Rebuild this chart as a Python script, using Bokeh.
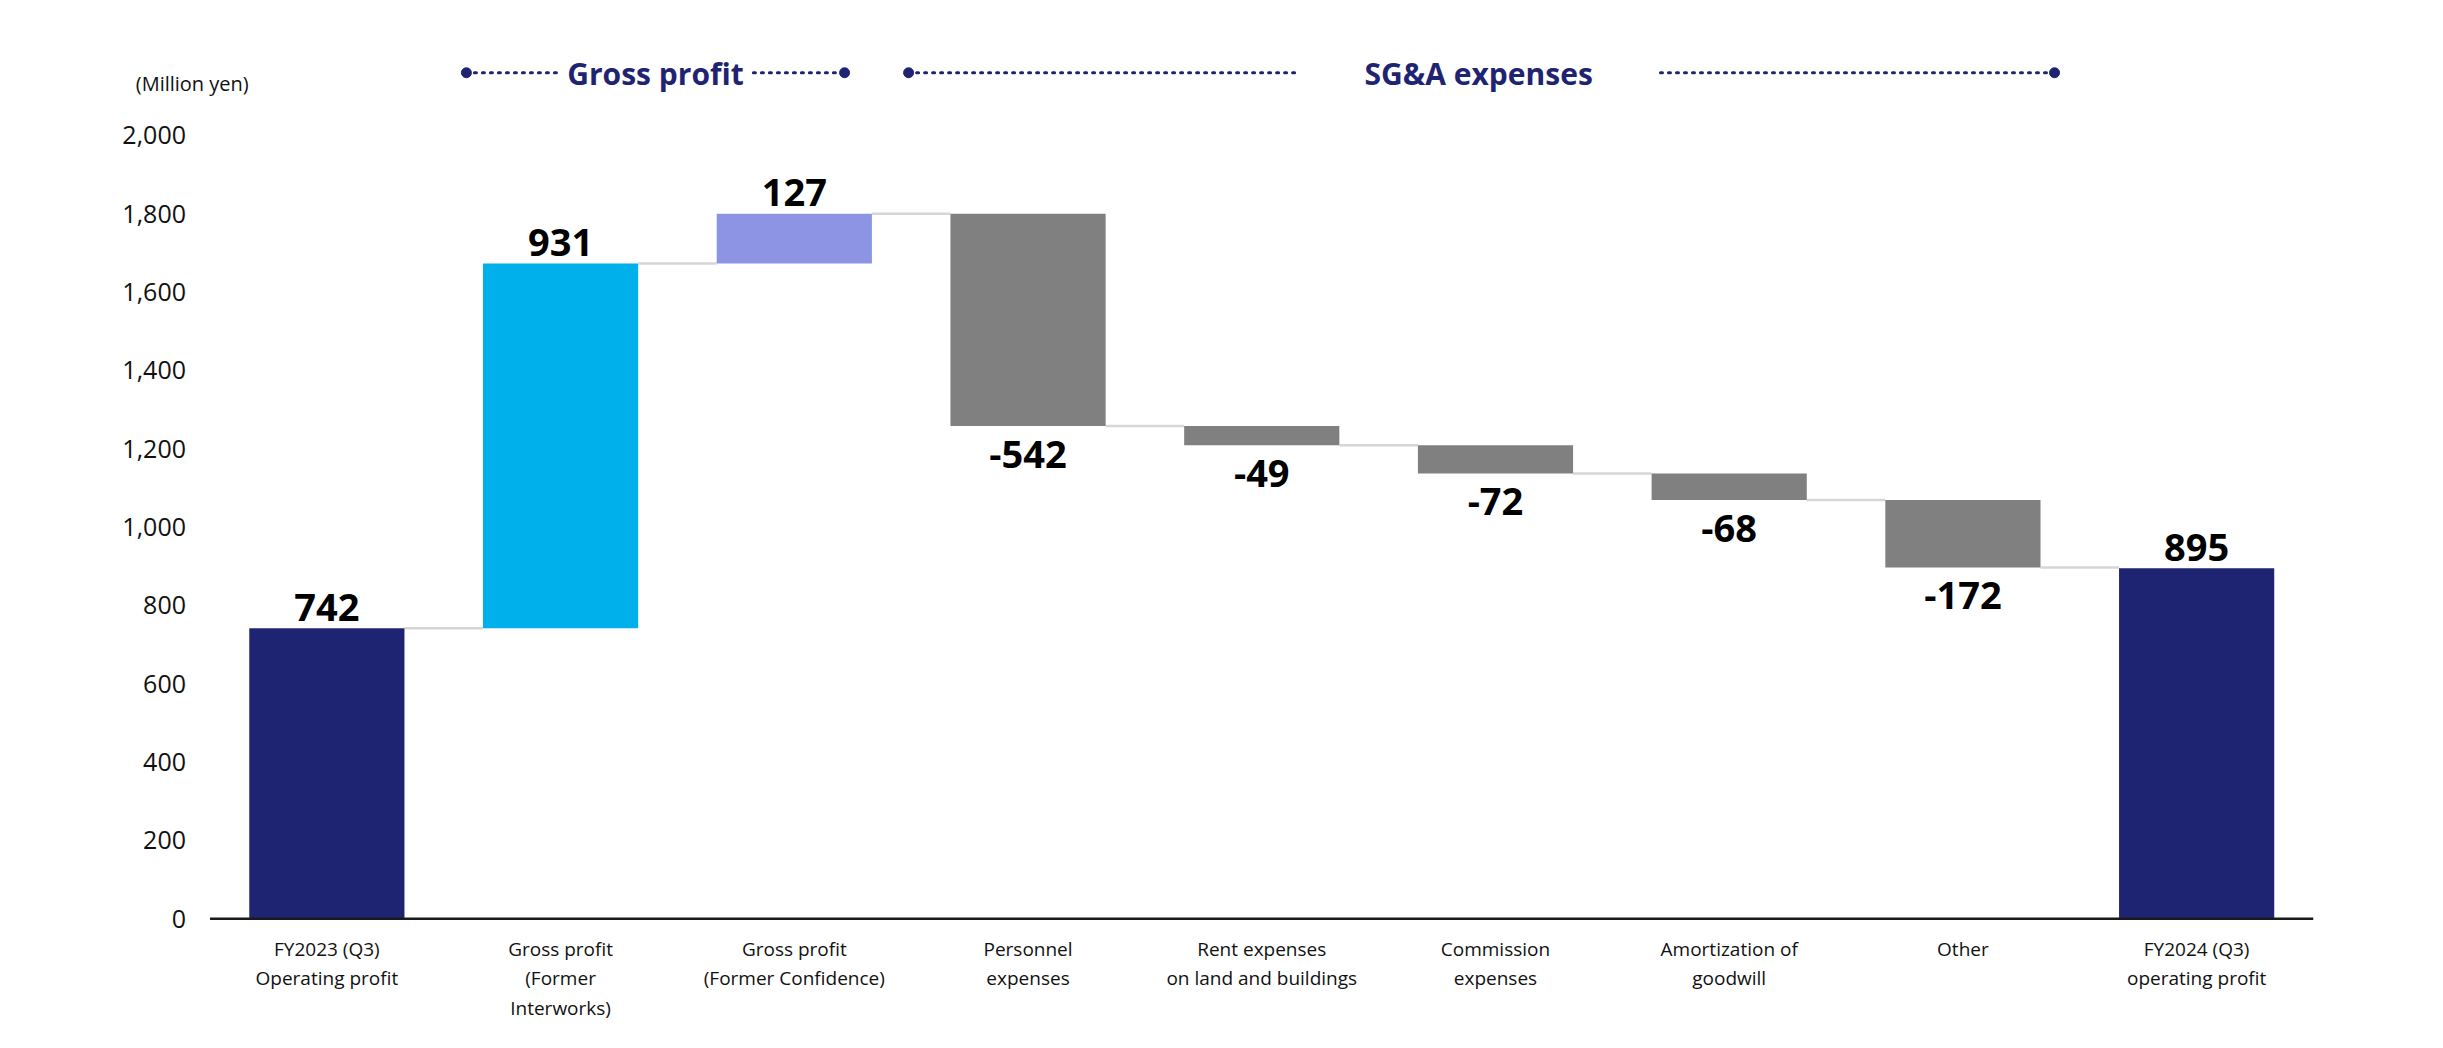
from bokeh.plotting import figure
from bokeh.models import FixedTicker, NumeralTickFormatter, Label, ColumnDataSource
from bokeh.core.properties import value
from bokeh.embed import file_html
from bokeh.resources import INLINE

# ---------------- data ----------------
categories = [
    "FY2023 (Q3)\nOperating profit",
    "Gross profit\n(Former\nInterworks)",
    "Gross profit\n(Former Confidence)",
    "Personnel\nexpenses",
    "Rent expenses\non land and buildings",
    "Commission\nexpenses",
    "Amortization of\ngoodwill",
    "Other",
    "FY2024 (Q3)\noperating profit",
]
values = [742, 931, 127, -542, -49, -72, -68, -172, 895]
kinds = ["total", "gp", "gp2", "sga", "sga", "sga", "sga", "sga", "total"]
y_ticks = [0, 200, 400, 600, 800, 1000, 1200, 1400, 1600, 1800, 2000]
unit_label = "(Million yen)"
group_titles = ["Gross profit", "SG&A expenses"]

# ---------------- styles ----------------
NAVY = "#1F2472"
kind_colors = {"total": NAVY, "gp": "#00B0EB", "gp2": "#8C94E3", "sga": "#808080"}
FONT = "Open Sans"
BAR_W = 0.664

# ---------------- waterfall geometry ----------------
xs = list(range(len(values)))
bottoms, tops, ends = [], [], []
running = 0
for v, k in zip(values, kinds):
    if k == "total":
        b, t = 0, v
        running = v
    else:
        b, t = running, running + v
        running += v
    bottoms.append(min(b, t))
    tops.append(max(b, t))
    ends.append(running)

bars = ColumnDataSource(dict(
    x=xs, bottom=bottoms, top=tops,
    color=[kind_colors[k] for k in kinds],
))

p = figure(width=2440, height=1045, x_range=(-1.2766, 8.5), y_range=(-35, 2250),
           output_backend="svg", toolbar_location=None,
           min_border_left=28, min_border_right=127,
           min_border_top=37, min_border_bottom=113)
p.outline_line_color = None
p.xgrid.grid_line_color = None
p.ygrid.grid_line_color = None
p.background_fill_color = "white"
p.border_fill_color = "white"

# connectors
cx0 = [x + BAR_W / 2 for x in xs[:-1]]
cx1 = [x + 1 - BAR_W / 2 for x in xs[:-1]]
cy = ends[:-1]
p.segment(x0=cx0, y0=cy, x1=cx1, y1=cy, line_color="#D6D6D6", line_width=2.5)

p.vbar(x="x", bottom="bottom", top="top", width=BAR_W, color="color",
       line_color=None, source=bars)

# baseline (category axis line at zero)
p.segment(x0=[xs[0] - 0.5], y0=[0], x1=[xs[-1] + 0.5], y1=[0],
          line_color="#1a1a1a", line_width=2.5)

# value labels
pos_x = [x for x, v in zip(xs, values) if v >= 0]
pos_y = [t for t, v in zip(tops, values) if v >= 0]
pos_t = [f"{v:,}" for v in values if v >= 0]
neg_x = [x for x, v in zip(xs, values) if v < 0]
neg_y = [b for b, v in zip(bottoms, values) if v < 0]
neg_t = [f"-{abs(v):,}" for v in values if v < 0]
p.text(x=pos_x, y=pos_y, text=pos_t, text_align="center", text_baseline="alphabetic",
       y_offset=-21, text_font=value(FONT), text_font_style="bold",
       text_font_size="38px", text_color="black")
p.text(x=neg_x, y=neg_y, text=neg_t, text_align="center", text_baseline="alphabetic",
       y_offset=28, text_font=value(FONT), text_font_style="bold",
       text_font_size="38px", text_color="black")

# group headers (layout positions in category units)
HDR_Y = 2160
HDR_BASE = 2158
hdr_layout = [
    # dot_left, line1_end, text_center, line2_start, dot_right
    (0.597, 0.991, 1.406, 1.825, 2.215),
    (2.489, 4.149, 4.928, 5.706, 7.392),
]
for title, (d0, l1, tc, l2, d1) in zip(group_titles, hdr_layout):
    p.segment(x0=[d0, l2], y0=[HDR_Y, HDR_Y], x1=[l1, d1], y1=[HDR_Y, HDR_Y],
              line_color=NAVY, line_width=3, line_dash="2 6", line_cap="round")
    p.scatter(x=[d0, d1], y=[HDR_Y, HDR_Y], size=10, color=NAVY, marker="circle")
    p.text(x=[tc], y=[HDR_BASE], text=[title], text_align="center",
           text_baseline="alphabetic", text_font=value(FONT), text_font_style="bold",
           text_font_size="30px", text_color=NAVY)

p.add_layout(Label(x=-0.576, y=2132, text=unit_label, text_align="center",
                   text_baseline="alphabetic", text_font=FONT, text_font_size="20px",
                   text_color="#111111"))

# axes
p.xaxis.ticker = FixedTicker(ticks=xs)
p.xaxis.major_label_overrides = {i: c for i, c in enumerate(categories)}
p.xaxis.major_tick_line_color = None
p.xaxis.minor_tick_line_color = None
p.xaxis.axis_line_color = None
p.xaxis.major_label_text_font = FONT
p.xaxis.major_label_text_font_size = "19px"
p.xaxis.major_label_text_color = "#111111"
p.xaxis.major_label_standoff = -3
p.xaxis.major_label_text_line_height = 1.15

p.yaxis.fixed_location = -0.5
p.yaxis.ticker = FixedTicker(ticks=y_ticks)
p.yaxis.formatter = NumeralTickFormatter(format="0,0")
p.yaxis.axis_line_color = None
p.yaxis.major_tick_line_color = None
p.yaxis.minor_tick_line_color = None
p.yaxis.major_label_text_font = FONT
p.yaxis.major_label_text_font_size = "25px"
p.yaxis.major_label_text_color = "#111111"
p.yaxis.major_label_standoff = 18

open("out.html", "w").write(file_html(p, INLINE))
